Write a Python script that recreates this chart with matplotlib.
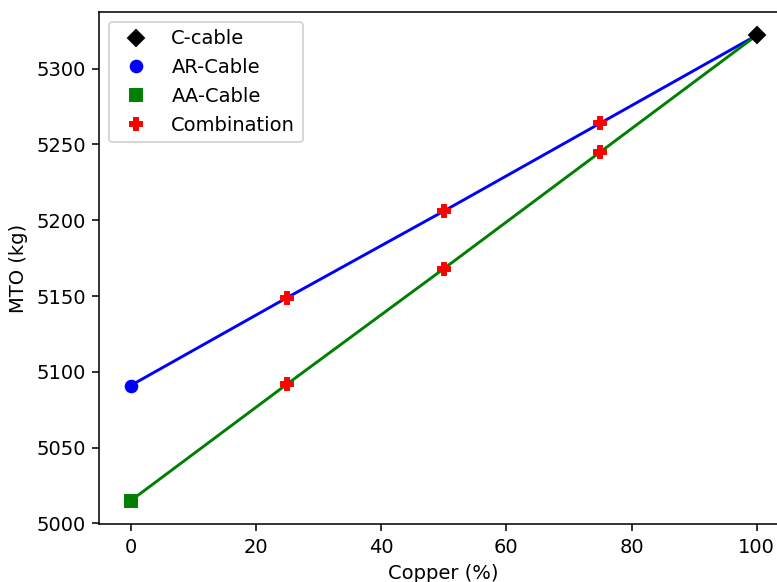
import matplotlib
matplotlib.use("Agg")
import matplotlib.pyplot as plt

# copper share (%) and MTO (kg)
copper = [0, 25, 50, 75, 100]
mto_ar = [5091, 5149, 5206, 5264, 5322]
mto_aa = [5015, 5092, 5168, 5245, 5322]

DPI = 140
fig = plt.figure(figsize=(777 / DPI, 582 / DPI), dpi=DPI)
# axes runs past the right edge, as in the cropped original
ax = fig.add_axes([99.4 / 777, 58 / 582, (788 - 99.4) / 777, (524 - 12) / 582])

ax.plot(copper, mto_ar, color='blue')
ax.plot(copper, mto_aa, color='green')

ax.plot(copper[-1], mto_ar[-1], 'kD', linestyle='none', label='C-cable')
ax.plot(copper[0], mto_ar[0], 'bo', linestyle='none', label='AR-Cable')
ax.plot(copper[0], mto_aa[0], 'gs', linestyle='none', label='AA-Cable')
ax.plot(copper[1:-1] + copper[1:-1], mto_ar[1:-1] + mto_aa[1:-1], 'rP',
        linestyle='none', label='Combination')

ax.set_xlabel('Copper (%)')
ax.set_ylabel('MTO (kg)')
ax.legend(loc='upper left')

fig.savefig('out.png', dpi=DPI)
